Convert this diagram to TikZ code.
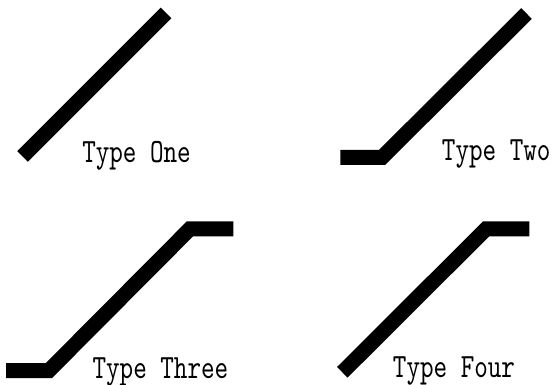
\documentclass[tikz,border=0pt]{standalone}
\usepackage{fontspec}
\newfontfamily\tagfont{lmmono10-regular.otf}[FakeStretch=0.76]
\tikzset{
  bar/.style={line width=11.25pt, line cap=butt, line join=miter},
  tag/.style={anchor=base west, inner sep=0pt, font=\tagfont\fontsize{25.5}{30}\selectfont}
}
\begin{document}
\begin{tikzpicture}[x=0.75pt,y=-0.75pt]
  \useasboundingbox (0,0) rectangle (554,385);
  % Type One
  \coordinate (oneA) at (22.5,156.5);
  \coordinate (oneB) at (166,13);
  \draw[bar] (oneA) -- (oneB);
  \node[tag] (one) at (82,162) {Type One};

  % Type Two
  \coordinate (twoA) at (340.3,157.5);
  \coordinate (twoB) at (382,157.5);
  \coordinate (twoC) at (526.5,13.5);
  \draw[bar] (twoA) -- (twoB) -- (twoC);
  \node[tag] (two) at (441.7,161) {Type Two};

  % Type Three
  \coordinate (threeA) at (6,370.5);
  \coordinate (threeB) at (49,370.5);
  \coordinate (threeC) at (190,228.8);
  \coordinate (threeD) at (233.3,228.8);
  \draw[bar] (threeA) -- (threeB) -- (threeC) -- (threeD);
  \node[tag] (three) at (92.3,378) {Type Three};

  % Type Four
  \coordinate (fourA) at (342.3,372.3);
  \coordinate (fourB) at (486.2,228.8);
  \coordinate (fourC) at (529.3,228.8);
  \draw[bar] (fourA) -- (fourB) -- (fourC);
  \node[tag] (four) at (392.7,377) {Type Four};
\end{tikzpicture}
\end{document}
